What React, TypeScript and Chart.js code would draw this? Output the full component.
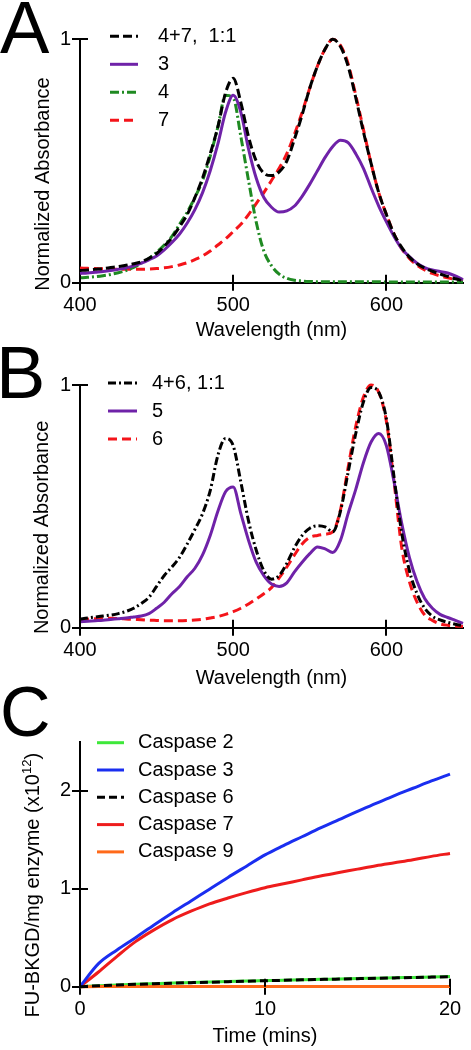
import React, { useEffect, useRef } from 'react';
import { Chart, registerables } from 'chart.js';

Chart.register(...registerables);

const FONT = '"Liberation Sans", Arial, Helvetica, sans-serif';

// ---------- Panel A / B : absorbance spectra ----------
const wavelengths = [
  400, 405, 410, 415, 420, 425, 430, 435, 440, 445, 450, 455, 460, 465, 470, 475, 480,
  485, 490, 495, 500, 505, 510, 515, 520, 525, 530, 535, 540, 545, 550, 555, 560, 565,
  570, 575, 580, 585, 590, 595, 600, 605, 610, 615, 620, 625, 630, 635, 640, 645, 650,
];

const mix47 = [
  0.05, 0.052, 0.055, 0.058, 0.062, 0.066, 0.072, 0.078, 0.086, 0.1, 0.12, 0.15, 0.185, 0.23, 0.28, 0.35, 0.43,
  0.53, 0.64, 0.78, 0.84, 0.74, 0.6, 0.5, 0.45, 0.44, 0.455, 0.5, 0.59, 0.69, 0.8, 0.89, 0.96, 1.0,
  0.97, 0.89, 0.76, 0.62, 0.49, 0.37, 0.28, 0.2, 0.145, 0.105, 0.078, 0.06, 0.047, 0.036, 0.026, 0.016, 0.008,
];
const cmpd3 = [
  0.038, 0.04, 0.043, 0.046, 0.05, 0.055, 0.061, 0.069, 0.08, 0.094, 0.11, 0.135, 0.165, 0.2, 0.245, 0.3, 0.37,
  0.46, 0.57, 0.7, 0.77, 0.7, 0.55, 0.43, 0.35, 0.31, 0.29, 0.295, 0.315, 0.355, 0.405, 0.46, 0.515, 0.56,
  0.585, 0.575, 0.53, 0.47, 0.39, 0.315, 0.25, 0.19, 0.14, 0.107, 0.08, 0.062, 0.052, 0.046, 0.04, 0.028, 0.012,
];
const cmpd4 = [
  0.02, 0.022, 0.025, 0.029, 0.034, 0.041, 0.05, 0.063, 0.08, 0.1, 0.125, 0.155, 0.19, 0.24, 0.29, 0.35, 0.42,
  0.52, 0.64, 0.77, 0.76, 0.6, 0.42, 0.25, 0.13, 0.07, 0.035, 0.018, 0.01, 0.007, 0.005, 0.004, 0.004, 0.004,
  0.004, 0.004, 0.004, 0.004, 0.004, 0.004, 0.003, 0.003, 0.003, 0.003, 0.003, 0.003, 0.003, 0.003, 0.003, 0.003, 0.003,
];
const cmpd7 = [
  0.06, 0.059, 0.058, 0.057, 0.056, 0.055, 0.055, 0.055, 0.055, 0.056, 0.058, 0.061, 0.066, 0.073, 0.082, 0.095, 0.11,
  0.13, 0.155, 0.18, 0.21, 0.24, 0.28, 0.325, 0.37, 0.42, 0.47, 0.53, 0.61, 0.7, 0.8, 0.89, 0.96, 1.0,
  0.975, 0.9, 0.77, 0.63, 0.49, 0.37, 0.28, 0.2, 0.14, 0.1, 0.072, 0.052, 0.038, 0.028, 0.02, 0.013, 0.007,
];

const mix46 = [
  0.035, 0.04, 0.044, 0.048, 0.052, 0.058, 0.067, 0.08, 0.1, 0.125, 0.17, 0.215, 0.25, 0.29, 0.345, 0.405, 0.47,
  0.565, 0.71, 0.78, 0.75, 0.6, 0.44, 0.32, 0.235, 0.2, 0.215, 0.265, 0.33, 0.38, 0.41, 0.42, 0.415, 0.395,
  0.48, 0.64, 0.8, 0.93, 0.99, 0.97, 0.86, 0.62, 0.39, 0.235, 0.14, 0.08, 0.047, 0.032, 0.022, 0.014, 0.008,
];
const cmpd5 = [
  0.025, 0.027, 0.029, 0.031, 0.034, 0.037, 0.04, 0.044, 0.048, 0.058, 0.08, 0.105, 0.14, 0.17, 0.21, 0.245, 0.3,
  0.38, 0.48, 0.56, 0.58, 0.47, 0.36, 0.27, 0.215, 0.18, 0.17, 0.185, 0.23, 0.27, 0.305, 0.333, 0.325, 0.31,
  0.36, 0.47, 0.57, 0.68, 0.765, 0.8, 0.75, 0.6, 0.43, 0.29, 0.19, 0.12, 0.08, 0.055, 0.042, 0.03, 0.018,
];
const cmpd6 = [
  0.032, 0.035, 0.037, 0.038, 0.039, 0.038, 0.036, 0.034, 0.033, 0.031, 0.03, 0.029, 0.029, 0.029, 0.03, 0.032, 0.035,
  0.04, 0.046, 0.055, 0.066, 0.08, 0.098, 0.118, 0.14, 0.165, 0.205, 0.25, 0.3, 0.345, 0.372, 0.38, 0.385, 0.395,
  0.485, 0.66, 0.83, 0.95, 1.0, 0.97, 0.85, 0.6, 0.33, 0.19, 0.105, 0.052, 0.03, 0.016, 0.01, 0.007, 0.005,
];

const wavelengthTicks = [400, 500, 600];
const absorbanceTicks = [0, 1];

// ---------- Panel C : caspase kinetics ----------
const timeMins = [0, 1, 2, 3, 4, 5, 6, 7, 8, 9, 10, 11, 12, 13, 14, 15, 16, 17, 18, 19, 20];
const caspase2 = [0, 0.01, 0.018, 0.025, 0.031, 0.037, 0.042, 0.047, 0.052, 0.057, 0.062, 0.066, 0.071, 0.075, 0.079, 0.083, 0.087, 0.091, 0.095, 0.099, 0.103];
const caspase3 = [0, 0.235, 0.375, 0.5, 0.63, 0.755, 0.875, 0.995, 1.115, 1.23, 1.345, 1.44, 1.53, 1.62, 1.705, 1.79, 1.87, 1.95, 2.025, 2.1, 2.17];
const caspase6 = [0, 0.009, 0.017, 0.024, 0.03, 0.036, 0.041, 0.046, 0.051, 0.056, 0.061, 0.065, 0.07, 0.074, 0.078, 0.082, 0.086, 0.09, 0.094, 0.098, 0.102];
const caspase7 = [0, 0.15, 0.31, 0.46, 0.58, 0.685, 0.77, 0.845, 0.905, 0.96, 1.01, 1.05, 1.09, 1.13, 1.165, 1.2, 1.235, 1.265, 1.295, 1.33, 1.36];
const caspase9 = [0, 0.001, 0.001, 0.001, 0.002, 0.002, 0.002, 0.002, 0.002, 0.002, 0.002, 0.002, 0.002, 0.002, 0.002, 0.002, 0.002, 0.002, 0.002, 0.002, 0.002];

const timeTicks = [0, 10, 20];
const fuTicks = [0, 1, 2];

// ---------- helpers ----------
const pairs = (xs: number[], ys: number[]) => xs.map((x, i) => ({ x, y: ys[i] }));

const decorPlugin = {
  id: 'decor',
  afterDraw(chart: any, _args: any, opts: any) {
    const { ctx, chartArea } = chart;
    const xs = chart.scales.x;
    const ys = chart.scales.y;
    ctx.save();
    // inner halves of the crossing tick marks
    ctx.strokeStyle = '#000';
    ctx.lineWidth = 2;
    ctx.setLineDash([]);
    const inner = opts.innerTick;
    xs.ticks.forEach((t: any) => {
      const px = Math.round(xs.getPixelForValue(t.value));
      ctx.beginPath();
      ctx.moveTo(px, chartArea.bottom);
      ctx.lineTo(px, chartArea.bottom - inner);
      ctx.stroke();
    });
    ys.ticks.forEach((t: any) => {
      const py = Math.round(ys.getPixelForValue(t.value));
      ctx.beginPath();
      ctx.moveTo(chartArea.left, py);
      ctx.lineTo(chartArea.left + inner, py);
      ctx.stroke();
    });

    // legend (drawn inside the plot, as in the figure)
    const lg = opts.legend;
    chart.data.datasets.forEach((ds: any, i: number) => {
      const y = chartArea.top + lg.top + i * lg.gap;
      ctx.beginPath();
      ctx.strokeStyle = ds.borderColor;
      ctx.lineWidth = ds.borderWidth;
      ctx.setLineDash(ds.borderDash || []);
      ctx.moveTo(chartArea.left + lg.x0, y);
      ctx.lineTo(chartArea.left + lg.x1, y);
      ctx.stroke();
      ctx.setLineDash([]);
      ctx.fillStyle = '#000';
      ctx.font = `${lg.size}px ${FONT}`;
      ctx.textAlign = 'left';
      ctx.textBaseline = 'middle';
      ctx.fillText(ds.label, chartArea.left + lg.textX, y);
    });

    // rotated y-axis title (with optional superscript)
    const yt = opts.yTitle;
    ctx.translate(yt.x, (chartArea.top + chartArea.bottom) / 2 + yt.dy);
    ctx.rotate(-Math.PI / 2);
    let total = 0;
    const widths = yt.segs.map((s: any) => {
      ctx.font = `${s.size}px ${FONT}`;
      const w = ctx.measureText(s.text).width;
      total += w;
      return w;
    });
    let cx = -total / 2;
    ctx.fillStyle = '#000';
    ctx.textAlign = 'left';
    ctx.textBaseline = 'alphabetic';
    yt.segs.forEach((s: any, i: number) => {
      ctx.font = `${s.size}px ${FONT}`;
      ctx.fillText(s.text, cx, -s.rise);
      cx += widths[i];
    });
    ctx.restore();
  },
};

type PanelSpec = {
  top: number;
  height: number;
  area: { left: number; top: number; right: number; bottom: number };
  datasets: any[];
  x: { min: number; max: number; ticks: number[]; title: string };
  y: { min: number; max: number; ticks: number[] };
  legend: any;
  yTitle: any;
};

const WIDTH = 471;

function makeConfig(p: PanelSpec): any {
  const tickFont = { family: FONT, size: 20 };
  const axisCommon = {
    type: 'linear',
    border: { display: true, color: '#000', width: 2 },
    grid: { display: true, drawOnChartArea: false, drawTicks: true, tickLength: 8, color: '#000', lineWidth: 2 },
  };
  return {
    type: 'line',
    data: { datasets: p.datasets },
    options: {
      animation: false,
      responsive: false,
      events: [],
      layout: { padding: { left: 0, top: p.area.top, right: WIDTH - p.area.right, bottom: 0 } },
      elements: { point: { radius: 0 }, line: { borderCapStyle: 'butt', borderJoinStyle: 'round' } },
      scales: {
        x: {
          ...axisCommon,
          min: p.x.min,
          max: p.x.max,
          afterBuildTicks: (s: any) => { s.ticks = p.x.ticks.map((v) => ({ value: v })); },
          ticks: { color: '#000', font: tickFont, padding: 3, maxRotation: 0, autoSkip: false },
          title: { display: true, text: p.x.title, color: '#000', font: { family: FONT, size: 20 }, padding: { top: 0, bottom: 0 } },
          afterFit: (s: any) => { s.height = p.height - p.area.bottom; },
        },
        y: {
          ...axisCommon,
          min: p.y.min,
          max: p.y.max,
          afterBuildTicks: (s: any) => { s.ticks = p.y.ticks.map((v) => ({ value: v })); },
          ticks: { color: '#000', font: tickFont, padding: 1, autoSkip: false },
          afterFit: (s: any) => { s.width = p.area.left; },
        },
      },
      plugins: {
        legend: { display: false },
        tooltip: { enabled: false },
        decor: { innerTick: 8, legend: p.legend, yTitle: p.yTitle },
      },
    },
    plugins: [decorPlugin],
  };
}

const lineDs = (label: string, xs: number[], ys: number[], color: string, dash: number[] = [], extra: any = {}) => ({
  label,
  data: pairs(xs, ys),
  borderColor: color,
  backgroundColor: color,
  borderWidth: 3,
  borderDash: dash,
  fill: false,
  pointRadius: 0,
  cubicInterpolationMode: 'monotone',
  clip: false,
  ...extra,
});

const PURPLE = '#6f22a8';
const GREEN_DARK = '#1f8a22';
const RED = '#f4141a';

const panelA: PanelSpec = {
  top: 0,
  height: 342,
  area: { left: 80, top: 39.3, right: 463, bottom: 282.7 },
  datasets: [
    lineDs('4+7,  1:1', wavelengths, mix47, '#000000', [9, 4]),
    lineDs('3', wavelengths, cmpd3, PURPLE),
    lineDs('4', wavelengths, cmpd4, GREEN_DARK, [9, 3, 2, 3]),
    lineDs('7', wavelengths, cmpd7, RED, [9, 5]),
  ],
  x: { min: 400, max: 650, ticks: wavelengthTicks, title: 'Wavelength (nm)' },
  y: { min: 0, max: 1, ticks: absorbanceTicks },
  legend: { x0: 30, x1: 58, textX: 78, top: -3, gap: 28, size: 20 },
  yTitle: { x: 49, dy: 23, segs: [{ text: 'Normalized Absorbance', size: 20, rise: 0 }] },
};

const panelB: PanelSpec = {
  top: 340,
  height: 350,
  area: { left: 80, top: 45, right: 463, bottom: 287.7 },
  datasets: [
    lineDs('4+6, 1:1', wavelengths, mix46, '#000000', [8, 3, 2, 3]),
    lineDs('5', wavelengths, cmpd5, PURPLE),
    lineDs('6', wavelengths, cmpd6, RED, [9, 5]),
  ],
  x: { min: 400, max: 650, ticks: wavelengthTicks, title: 'Wavelength (nm)' },
  y: { min: 0, max: 1, ticks: absorbanceTicks },
  legend: { x0: 28, x1: 57, textX: 72, top: -2, gap: 28, size: 20 },
  yTitle: { x: 47.5, dy: 21, segs: [{ text: 'Normalized Absorbance', size: 20, rise: 0 }] },
};

const panelC: PanelSpec = {
  top: 690,
  height: 358,
  area: { left: 80, top: 51.7, right: 450, bottom: 296.7 },
  datasets: [
    lineDs('Caspase 2', timeMins, caspase2, '#3ee83a', [], { order: 2 }),
    lineDs('Caspase 3', timeMins, caspase3, '#1a2ef0', [], { order: 1 }),
    lineDs('Caspase 6', timeMins, caspase6, '#000000', [8, 4], { order: 0 }),
    lineDs('Caspase 7', timeMins, caspase7, '#ee1c1c', [], { order: 1 }),
    lineDs('Caspase 9', timeMins, caspase9, '#ff6a1a', [], { order: 1 }),
  ],
  x: { min: 0, max: 20, ticks: timeTicks, title: 'Time (mins)' },
  y: { min: 0, max: 2.5, ticks: fuTicks },
  legend: { x0: 17, x1: 44, textX: 58, top: 1, gap: 27.3, size: 20 },
  yTitle: {
    x: 38.5,
    dy: 21,
    segs: [
      { text: 'FU-BKGD/mg enzyme (x10', size: 20, rise: 0 },
      { text: '12', size: 13, rise: 8 },
      { text: ')', size: 20, rise: 0 },
    ],
  },
};

function Panel({ spec }: { spec: PanelSpec }) {
  const ref = useRef<HTMLCanvasElement>(null);
  useEffect(() => {
    if (!ref.current) return;
    const chart = new Chart(ref.current, makeConfig(spec));
    return () => chart.destroy();
  }, [spec]);
  return (
    <canvas
      ref={ref}
      width={WIDTH}
      height={spec.height}
      style={{ position: 'absolute', left: 0, top: spec.top, width: WIDTH, height: spec.height }}
    />
  );
}

const letterStyle = (left: number, top: number, size: number): React.CSSProperties => ({
  position: 'absolute',
  left,
  top,
  fontFamily: FONT,
  fontSize: size,
  lineHeight: `${size}px`,
  color: '#000',
  margin: 0,
});

export default function App() {
  return (
    <div style={{ position: 'absolute', left: 0, top: 0, width: WIDTH, height: 1050, background: '#fff', overflow: 'hidden' }}>
      <Panel spec={panelA} />
      <Panel spec={panelB} />
      <Panel spec={panelC} />
      <div style={letterStyle(0, -9, 74)}>A</div>
      <div style={letterStyle(-4, 336, 74)}>B</div>
      <div style={letterStyle(0, 677, 70)}>C</div>
    </div>
  );
}
